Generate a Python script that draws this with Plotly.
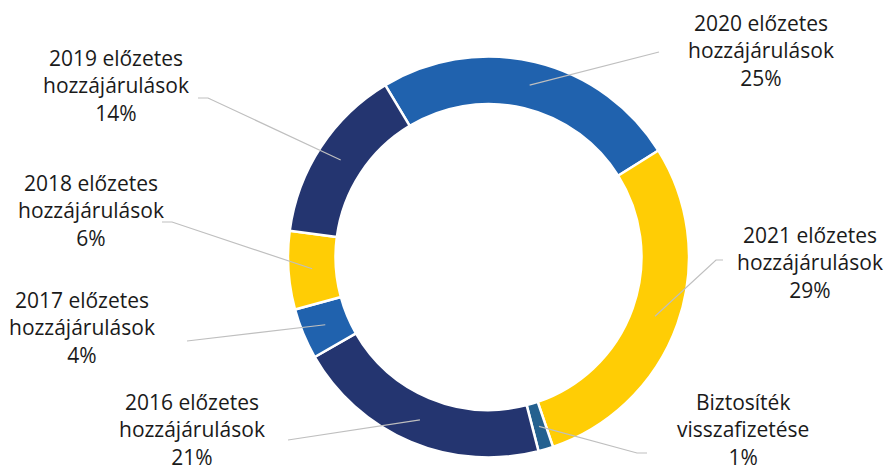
import math
import plotly.graph_objects as go

# ---- data ----
categories = [
    "2020 előzetes hozzájárulások",
    "2021 előzetes hozzájárulások",
    "Biztosíték visszafizetése",
    "2016 előzetes hozzájárulások",
    "2017 előzetes hozzájárulások",
    "2018 előzetes hozzájárulások",
    "2019 előzetes hozzájárulások",
]
values = [24.7, 28.7, 1.2, 20.7, 4.1, 6.3, 14.3]

# ---- style / layout ----
colors = ["#2062ae", "#ffcd05", "#24618f", "#243570", "#2062ae", "#ffcd05", "#243570"]
W, H = 885, 472
CX, CY, R_OUT = 488.5, 257.0, 200.5
HOLE = 0.763
ROTATION = -31.0
FONT = "Open Sans"
FSIZE = 21
TEXT_COLOR = "#1a1a1a"
LEADER_COLOR = "#bfbfbf"
# (text centre x, middle-line y, leader path points after the ring point), in px
label_layout = [
    (761, 50, [(659, 52)]),
    (810, 262, [(716, 260), (723, 260)]),
    (743, 429, [(637, 453), (647, 453)]),
    (192, 429, [(288, 440)]),
    (82, 327, [(187, 341)]),
    (91, 210, [(172, 222), (162, 222)]),
    (116, 85, [(208, 98), (198, 98)]),
]

fig = go.Figure()
fig.add_trace(go.Pie(
    labels=categories,
    values=values,
    hole=HOLE,
    sort=False,
    direction="clockwise",
    rotation=ROTATION,
    marker=dict(colors=colors, line=dict(color="white", width=2.5)),
    textinfo="none",
    hoverinfo="label+percent",
    showlegend=False,
    domain=dict(
        x=[(CX - R_OUT) / W, (CX + R_OUT) / W],
        y=[(H - CY - R_OUT) / H, (H - CY + R_OUT) / H],
    ),
))

# leader lines and labels computed from the data
total = sum(values)
r_mid = R_OUT * (1 + HOLE) / 2
cum = 0.0
shapes = []
annotations = []
for name, v, (tx, ty, pts) in zip(categories, values, label_layout):
    mid_deg = ROTATION + 360.0 * (cum + v / 2) / total
    cum += v
    a = math.radians(mid_deg)
    px = CX + r_mid * math.sin(a)
    py = CY - r_mid * math.cos(a)
    path_pts = [(px, py)] + pts
    path = "M " + " L ".join(f"{x:.2f},{y:.2f}" for x, y in path_pts)
    shapes.append(dict(type="path", path=path, xref="x", yref="y",
                       line=dict(color=LEADER_COLOR, width=1.2)))
    first, second = name.rsplit(" ", 1)
    pct = f"{round(v / total * 100)}%"
    annotations.append(dict(
        x=tx, y=ty, xref="x", yref="y",
        text=f"{first}<br>{second}<br>{pct}", showarrow=False,
        xanchor="center", yanchor="middle", align="center",
        font=dict(family=FONT, size=FSIZE, color=TEXT_COLOR),
    ))

fig.update_layout(
    width=W, height=H,
    margin=dict(l=0, r=0, t=0, b=0),
    paper_bgcolor="white", plot_bgcolor="rgba(0,0,0,0)",
    xaxis=dict(range=[0, W], visible=False, fixedrange=True, domain=[0, 1]),
    yaxis=dict(range=[H, 0], visible=False, fixedrange=True, domain=[0, 1]),
    shapes=shapes,
    annotations=annotations,
)

fig.write_html(
    "out.html",
    config={"displayModeBar": False},
    post_script="document.body.style.margin='0';document.body.style.overflow='hidden';",
)
